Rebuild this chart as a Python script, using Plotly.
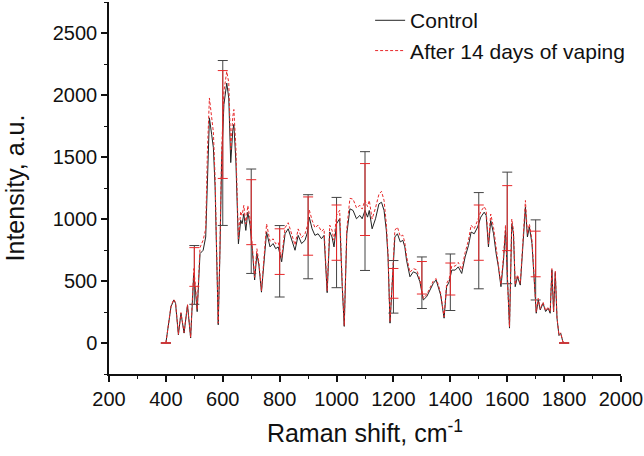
import plotly.graph_objects as go

# Raman shift (cm^-1)
shift = [400, 410, 418, 428, 434, 444, 453, 464, 476, 487, 498, 504, 510, 520, 531, 540, 546, 553, 561, 567,
         573, 579, 584, 590, 596, 604, 614, 621, 625, 628, 635, 639, 646, 651, 655, 663, 668, 674, 681, 688,
         696, 704, 712, 720, 727, 736, 745, 754, 766, 777, 786, 795, 807, 819, 830, 842, 854, 865, 877, 889,
         898, 904, 914, 924, 935, 947, 956, 967, 976, 984, 991, 1000, 1011, 1020, 1027, 1036, 1047, 1058, 1070, 1082,
         1090, 1100, 1109, 1115, 1125, 1137, 1149, 1158, 1167, 1175, 1181, 1188, 1195, 1205, 1214, 1224, 1233, 1240, 1246, 1258,
         1270, 1282, 1293, 1305, 1317, 1328, 1340, 1350, 1358, 1366, 1378, 1387, 1396, 1405, 1417, 1428, 1440, 1452, 1464, 1473,
         1484, 1496, 1507, 1519, 1526, 1534, 1542, 1552, 1561, 1569, 1578, 1587, 1594, 1601, 1608, 1616, 1622, 1628, 1636, 1646,
         1655, 1664, 1671, 1678, 1687, 1695, 1702, 1709, 1716, 1726, 1735, 1744, 1751, 1757, 1763, 1769, 1775, 1782, 1788, 1795,
         1800]

control = [0, 180, 293, 347, 320, 66, 240, 80, 306, 40, 560, 420, 253, 721, 748, 855, 1400, 1816, 1680, 1575,
           1255, 723, 147, 723, 1468, 1923, 2096, 1976, 1575, 1455, 1709, 1763, 1468, 990, 800, 990, 962, 1042, 908, 1055,
           950, 748, 508, 721, 628, 410, 650, 895, 775, 802, 761, 775, 655, 881, 921, 828, 748, 868, 802, 828,
           895, 1015, 921, 868, 881, 841, 868, 406, 895, 855, 775, 962, 1002, 454, 134, 881, 1082, 1069, 1002, 1029,
           1002, 1069, 1015, 1069, 921, 1002, 1122, 1135, 1069, 908, 694, 160, 454, 855, 881, 815, 828, 775, 668, 534,
           574, 561, 494, 347, 374, 427, 481, 508, 454, 387, 200, 454, 494, 588, 588, 614, 561, 694, 788, 895,
           881, 935, 1015, 1055, 1029, 775, 988, 881, 721, 614, 454, 668, 908, 481, 120, 962, 881, 454, 534, 467,
           775, 1096, 855, 935, 802, 508, 240, 347, 267, 320, 254, 280, 240, 590, 250, 570, 200, 60, 80, 15,
           0]

vaping = [0, 185, 300, 352, 325, 70, 245, 85, 310, 45, 600, 460, 270, 770, 830, 920, 1550, 1976, 1830, 1700,
          1330, 760, 160, 760, 1550, 2030, 2190, 2100, 1700, 1560, 1820, 1883, 1580, 1050, 840, 1060, 1030, 1110, 960, 1108,
          1000, 780, 530, 760, 650, 420, 700, 960, 820, 840, 800, 810, 690, 930, 970, 880, 790, 920, 850, 880,
          950, 1074, 990, 930, 950, 900, 920, 420, 950, 910, 830, 1030, 1070, 480, 140, 920, 1167, 1160, 1090, 1110,
          1080, 1150, 1100, 1150, 1000, 1090, 1200, 1223, 1150, 960, 720, 170, 480, 910, 935, 860, 870, 810, 700, 570,
          600, 590, 510, 360, 390, 440, 500, 520, 470, 400, 210, 480, 520, 620, 620, 650, 590, 730, 830, 950,
          920, 990, 1060, 1100, 1070, 800, 1040, 930, 760, 640, 470, 700, 950, 500, 130, 1000, 910, 470, 550, 480,
          800, 1149, 880, 960, 830, 520, 250, 360, 275, 330, 260, 290, 250, 600, 255, 580, 205, 62, 82, 15,
          0]

# Error bars (every 100 cm^-1)
eb_shift = [400, 500, 600, 700, 800, 900, 1000, 1100, 1200, 1300, 1400, 1500, 1600, 1700, 1800]
control_eb_mean = [0, 549, 1613, 982, 659, 857, 810, 1064, 453, 486, 490, 825, 928, 670, 0]
control_eb_err = [0, 237, 665, 421, 288, 339, 364, 479, 212, 208, 228, 388, 450, 323, 0]
vaping_eb_mean = [0, 613, 1762, 1055, 737, 943, 890, 1157, 481, 526, 516, 890, 1007, 718, 0]
vaping_eb_err = [0, 156, 435, 262, 184, 235, 223, 290, 120, 131, 129, 223, 262, 184, 0]

x_ticks = [200, 400, 600, 800, 1000, 1200, 1400, 1600, 1800, 2000]
y_ticks = [0, 500, 1000, 1500, 2000, 2500]

BLACK = "#222222"
RED = "#e8292b"
FONT = "Arial, Liberation Sans, sans-serif"

fig = go.Figure()
fig.add_trace(go.Scatter(x=shift, y=control, mode="lines", name="Control",
                         line=dict(color=BLACK, width=1)))
fig.add_trace(go.Scatter(x=eb_shift, y=control_eb_mean, mode="markers", showlegend=False,
                         marker=dict(size=1, opacity=0),
                         error_y=dict(type="data", array=control_eb_err, color="#444444",
                                      thickness=1, width=5)))
fig.add_trace(go.Scatter(x=shift, y=vaping, mode="lines", name="After 14 days of vaping",
                         line=dict(color=RED, width=1, dash="3px,2px")))
fig.add_trace(go.Scatter(x=eb_shift, y=vaping_eb_mean, mode="markers", showlegend=False,
                         marker=dict(size=1, opacity=0),
                         error_y=dict(type="data", array=vaping_eb_err, color=RED,
                                      thickness=1, width=5)))

fig.update_layout(
    width=644, height=456,
    margin=dict(l=109, r=23, t=0, b=82),
    paper_bgcolor="white", plot_bgcolor="white",
    font=dict(family=FONT, color="#111111"),
    showlegend=True,
    legend=dict(x=0.51, y=1.005, xanchor="left", yanchor="top",
                bgcolor="rgba(0,0,0,0)", font=dict(size=21, family=FONT),
                tracegroupgap=0, itemwidth=30),
)
fig.update_xaxes(range=[200, 2000], tickvals=x_ticks, ticks="outside", ticklen=6, tickwidth=1.5,
                 tickcolor="#111111", showline=True, linecolor="#111111", linewidth=1.5,
                 showgrid=False, zeroline=False, tickfont=dict(size=20, family=FONT),
                 minor=dict(dtick=100, tick0=200, ticks="outside", ticklen=3, tickwidth=1.2, tickcolor="#111111"),
                 title=dict(text="Raman shift, cm<sup>-1</sup>", font=dict(size=25, family=FONT), standoff=16))
fig.update_yaxes(range=[-250, 2750], tickvals=y_ticks, ticks="outside", ticklen=6, tickwidth=1.5,
                 tickcolor="#111111", showline=True, linecolor="#111111", linewidth=1.5,
                 showgrid=False, zeroline=False, tickfont=dict(size=20, family=FONT),
                 minor=dict(dtick=250, tick0=0, ticks="outside", ticklen=3, tickwidth=1.2, tickcolor="#111111"),
                 title=dict(text="Intensity, a.u.", font=dict(size=25, family=FONT), standoff=21))

fig.write_html("out.html", config={"displayModeBar": False},
               post_script="document.body.style.margin='0px';document.body.style.overflow='hidden';")
